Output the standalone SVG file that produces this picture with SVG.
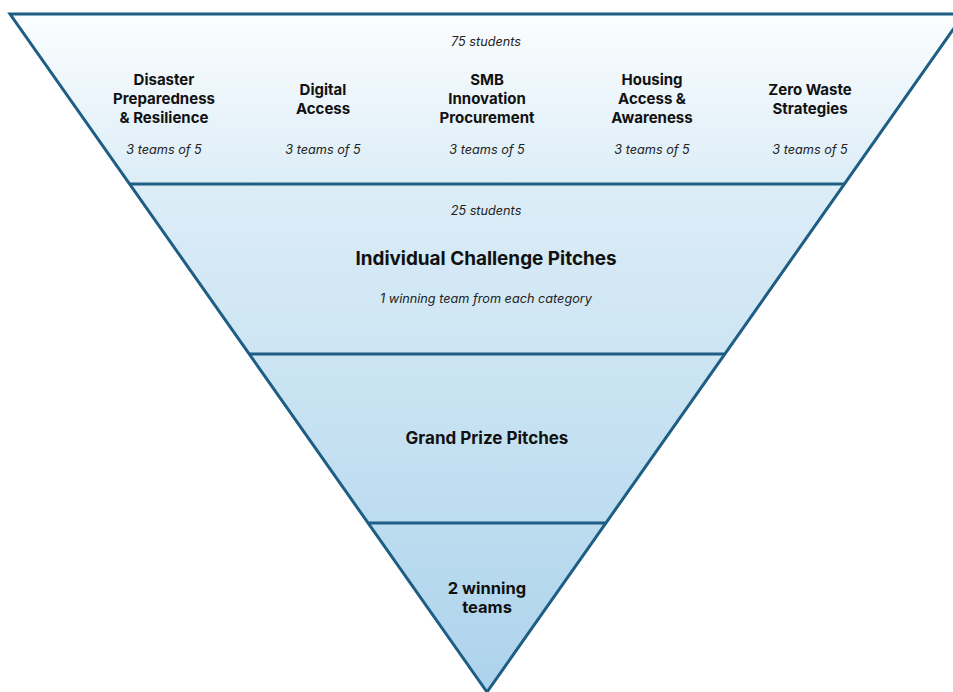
<svg xmlns="http://www.w3.org/2000/svg" width="953" height="692" viewBox="0 0 953 692">
<defs>
<linearGradient id="g" x1="0" y1="14" x2="0" y2="692" gradientUnits="userSpaceOnUse">
<stop offset="0" stop-color="#fbfdfe"/>
<stop offset="0.25" stop-color="#dcedf7"/>
<stop offset="0.5" stop-color="#cde5f3"/>
<stop offset="1" stop-color="#acd3ec"/>
</linearGradient>
<style>
.h{font-family:Inter,"Liberation Sans",sans-serif;font-weight:bold;fill:#111;text-anchor:middle}
.s{font-family:Inter,"Liberation Sans",sans-serif;font-style:italic;fill:#222;text-anchor:middle;font-size:12.7px}
.ln{stroke:#1e5d84;stroke-width:3;fill:none}
</style>
</defs>
<rect width="953" height="692" fill="#ffffff"/>
<g id="funnel">
<polygon points="10,14 964,14 487,692" fill="url(#g)"/>
</g>
<g id="connectors">
<polyline class="ln" points="953,14 10,14 487,692 964,14"/>
<line class="ln" x1="129.6" y1="184" x2="844.4" y2="184"/>
<line class="ln" x1="249.2" y1="354" x2="724.8" y2="354"/>
<line class="ln" x1="368" y1="523" x2="606" y2="523"/>
</g>
<g id="stage1">
<text class="s" x="486" y="46">75 students</text>
<g id="disaster">
<text class="h" font-size="15" x="164" y="85">Disaster</text>
<text class="h" font-size="15" x="164" y="104">Preparedness</text>
<text class="h" font-size="15" x="164" y="123">&amp; Resilience</text>
<text class="s" x="164" y="154">3 teams of 5</text>
</g>
<g id="digital">
<text class="h" font-size="15" x="323" y="95">Digital</text>
<text class="h" font-size="15" x="323" y="114">Access</text>
<text class="s" x="323" y="154">3 teams of 5</text>
</g>
<g id="smb">
<text class="h" font-size="15" x="487" y="85">SMB</text>
<text class="h" font-size="15" x="487" y="104">Innovation</text>
<text class="h" font-size="15" x="487" y="123">Procurement</text>
<text class="s" x="487" y="154">3 teams of 5</text>
</g>
<g id="housing">
<text class="h" font-size="15" x="652" y="85">Housing</text>
<text class="h" font-size="15" x="652" y="104">Access &amp;</text>
<text class="h" font-size="15" x="652" y="123">Awareness</text>
<text class="s" x="652" y="154">3 teams of 5</text>
</g>
<g id="zerowaste">
<text class="h" font-size="15" x="810" y="95">Zero Waste</text>
<text class="h" font-size="15" x="810" y="114">Strategies</text>
<text class="s" x="810" y="154">3 teams of 5</text>
</g>
</g>
<g id="stage2">
<text class="s" x="486" y="215">25 students</text>
<text class="h" font-size="18.9" x="486" y="265">Individual Challenge Pitches</text>
<text class="s" x="486" y="303">1 winning team from each category</text>
</g>
<g id="stage3">
<text class="h" font-size="17" x="487" y="444">Grand Prize Pitches</text>
</g>
<g id="stage4">
<text class="h" font-size="16.5" x="487" y="594">2 winning</text>
<text class="h" font-size="16.5" x="487" y="613">teams</text>
</g>
</svg>
